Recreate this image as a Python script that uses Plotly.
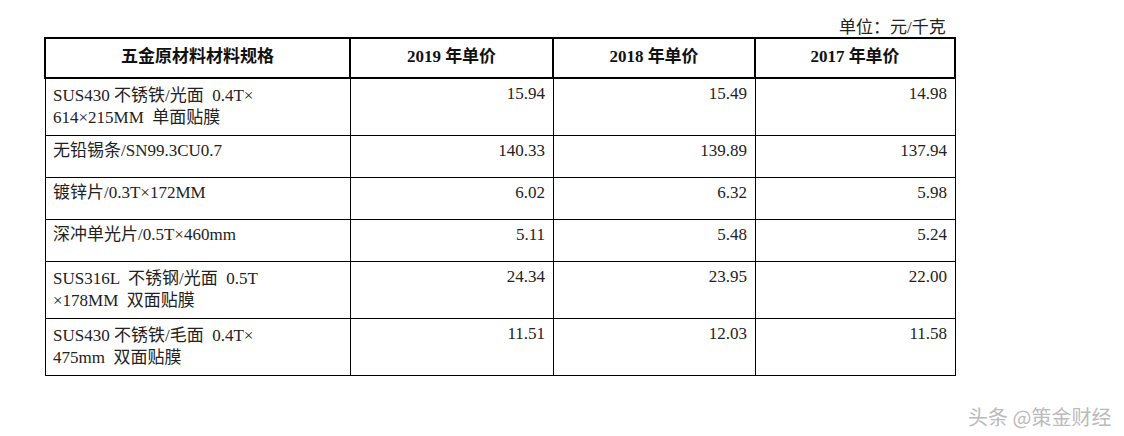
import plotly.graph_objects as go

# Table data
headers = ["<b>五金原材料材料规格</b>", "<b>2019 年单价</b>", "<b>2018 年单价</b>", "<b>2017 年单价</b>"]
materials = [
    "SUS430 不锈铁/光面  0.4T×<br>614×215MM  单面贴膜",
    "无铅锡条/SN99.3CU0.7",
    "镀锌片/0.3T×172MM",
    "深冲单光片/0.5T×460mm",
    "SUS316L  不锈钢/光面  0.5T<br>×178MM  双面贴膜",
    "SUS430 不锈铁/毛面  0.4T×<br>475mm  双面贴膜",
]
price_2019 = ["15.94", "140.33", "6.02", "5.11", "24.34", "11.51"]
price_2018 = ["15.49", "139.89", "6.32", "5.48", "23.95", "12.03"]
price_2017 = ["14.98", "137.94", "5.98", "5.24", "22.00", "11.58"]

font_family = "Liberation Serif, Noto Sans CJK SC"

fig = go.Figure()
fig.add_trace(go.Table(
    domain=dict(x=[37 / 1124, 947 / 1124], y=[0.0, 1 - 30 / 436]),
    columnwidth=[305, 203, 202, 200],
    header=dict(
        values=headers,
        align="center",
        height=40,
        line=dict(color="black", width=1.5),
        fill=dict(color="white"),
        font=dict(family=font_family, size=17, color="#111"),
    ),
    cells=dict(
        values=[materials, price_2019, price_2018, price_2017],
        align=["left", "right", "right", "right"],
        height=42,
        line=dict(color="black", width=1),
        fill=dict(color="white"),
        font=dict(family=font_family, size=17, color="#222"),
    ),
))

fig.add_annotation(
    text="单位：元/千克", x=940 / 1124, y=1 - 20 / 436, xref="paper", yref="paper",
    xanchor="right", yanchor="middle", showarrow=False,
    font=dict(family=font_family, size=17, color="#222"),
)
fig.add_annotation(
    text="头条 @策金财经", x=1105 / 1124, y=1 - 408 / 436, xref="paper", yref="paper",
    xanchor="right", yanchor="middle", showarrow=False,
    font=dict(family="Noto Sans CJK SC", size=20, color="#bbbbbb"),
)

fig.update_layout(
    width=1124, height=436,
    margin=dict(l=0, r=0, t=0, b=0),
    paper_bgcolor="white",
    plot_bgcolor="white",
)

fig.write_html("out.html")
